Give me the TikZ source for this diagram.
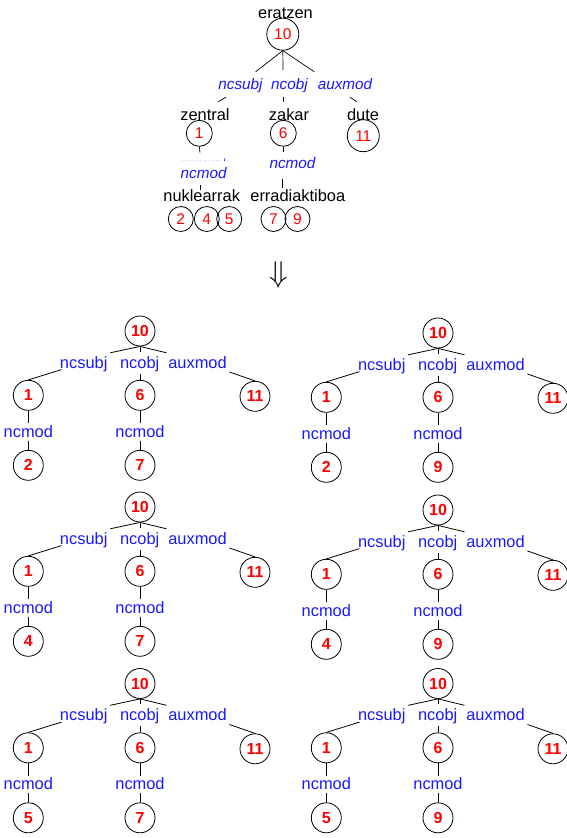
\documentclass[tikz,border=0pt]{standalone}
\usepackage{fontspec}
\setmainfont{Liberation Sans}
\usetikzlibrary{calc}
\definecolor{lblue}{RGB}{25,25,255}
\definecolor{lred}{RGB}{255,0,0}
\tikzset{
  bc/.style={circle,draw,line width=0.8pt,minimum size=30pt,inner sep=0pt,text=lred,font=\fontsize{16}{16}\selectfont\bfseries},
  bl/.style={anchor=base,inner sep=0pt,text height=12pt,text depth=3.5pt,text=lblue,font=\fontsize{16.4}{16.4}\selectfont},
  edge/.style={line width=0.8pt},
  tedge/.style={line width=0.7pt},
  tc/.style={circle,draw,line width=0.8pt,minimum size=26pt,inner sep=0pt,text=lred,font=\fontsize{15.5}{15.5}\selectfont},
  tcc/.style={tc,minimum size=32pt},
  tcs/.style={tc,minimum size=25pt},
  tw/.style={anchor=base,inner sep=0pt,text height=12pt,text depth=3.5pt,font=\fontsize{16.4}{16.4}\selectfont},
  tl/.style={anchor=base,inner sep=0pt,text height=11pt,text depth=3pt,text=lblue,font=\fontsize{15.3}{15.3}\selectfont\itshape},
}
\newcommand\bottree[5]{%
\begin{scope}[shift={(#2,#3)}]
\node[bc] (#1r) at (0,0) {10};
\node[bl] (#1s) at (-56.3,37) {ncsubj};
\node[bl] (#1o) at (-0.3,37) {ncobj};
\node[bl] (#1a) at (57.5,37) {auxmod};
\node[bc] (#1c1) at (-111.7,64.3) {1};
\node[bc] (#1c6) at (0,64.3) {6};
\node[bc] (#1c11) at (115,65.3) {11};
\node[bl] (#1m1) at (-111.7,106) {ncmod};
\node[bl] (#1m6) at (0,106) {ncmod};
\node[bc] (#1d1) at (-111.7,134.3) {#4};
\node[bc] (#1d6) at (0,134.3) {#5};
\draw[edge] (#1r.south) -- ([shift={(2.6,-3)}]#1s.north east);
\draw[edge] (#1r.south) -- ([shift={(0.3,-4)}]#1o.north);
\draw[edge] (#1r.south) -- ([shift={(-1.6,-3)}]#1a.north west);
\draw[edge] ([shift={(1.7,1.6)}]#1s.base west) -- (#1c1.north);
\draw[edge] ([shift={(0.3,2)}]#1o.south) -- (#1c6.north);
\draw[edge] ([shift={(2.6,4)}]#1a.base east) -- (#1c11.north);
\draw[edge] (#1c1.south) -- ([yshift=1.4pt]#1m1.north);
\draw[edge] (#1c6.south) -- ([yshift=1.4pt]#1m6.north);
\draw[edge] (#1m1.south) -- (#1d1.north);
\draw[edge] (#1m6.south) -- (#1d6.north);
\end{scope}}
\begin{document}
\begin{tikzpicture}[x=1pt,y=-1pt]
\useasboundingbox (0,0) rectangle (567,838);
% top tree
\node[tw] (weratzen) at (285.5,18.3) {eratzen};
\node[tcc] (t10) at (282.8,34.2) {10};
\node[tl] (tsubj) at (240.5,89.3) {ncsubj};
\node[tl] (tobj) at (289.5,89.3) {ncobj};
\node[tl] (taux) at (345,89.3) {auxmod};
\node[tw] (wzentral) at (205,120) {zentral};
\node[tw] (wzakar) at (289,120) {zakar};
\node[tw] (wdute) at (363,120) {dute};
\node[tc] (t1) at (199.3,133.3) {1};
\node[tc] (t6) at (283.3,133.3) {6};
\node[tcc] (t11) at (363.3,135.7) {11};
\node[tl] (tmod1) at (203.7,178.3) {ncmod};
\node[tl] (tmod6) at (292.5,168.3) {ncmod};
\node[tw] (wnuk) at (201.7,201.7) {nuklearrak};
\node[tw] (werr) at (297.8,201.7) {erradiaktiboa};
\node[tcs] (t2) at (180.8,219) {2};
\node[tcs] (t4) at (206.8,219) {4};
\node[tcs] (t5) at (229.2,219) {5};
\node[tcs] (t7) at (273.5,219) {7};
\node[tcs] (t9) at (297.5,219) {9};
\draw[tedge] (t10.south) -- ([shift={(-7.2,-6.3)}]tsubj.north east);
\draw[tedge] (t10.south) -- ([shift={(-6.5,-8.3)}]tobj.north);
\draw[tedge] (t10.south) -- ([shift={(-3.3,-6.3)}]taux.north west);
\draw[tedge] ([shift={(-14.5,4.7)}]tsubj.south) -- ([shift={(13,-6)}]wzentral.north);
\draw[tedge] ([shift={(-6.5,4.7)}]tobj.south) -- ([shift={(-6,-6)}]wzakar.north);
\draw[tedge] ([shift={(5,4.7)}]taux.south) -- ([shift={(-6,-6)}]wdute.north);
\draw[tedge] (t1.south) -- ([shift={(-3.7,-14.6)}]tmod1.north);
\draw[tedge] ([shift={(-3,3.7)}]tmod1.south) -- ([shift={(-1,0.3)}]wnuk.north);
\draw[tedge] (t6.south) -- ([shift={(-9.2,-5.6)}]tmod6.north);
\draw[tedge] ([shift={(-9.8,7)}]tmod6.south) -- ([shift={(-15.1,-1.4)}]werr.north);
\draw[lblue!22,dotted,line width=0.6pt] (182,160) -- (221,160);
\draw[lblue,line width=0.7pt] (225,158.3) -- (224.3,161);
% arrow
\node[scale=3] (arr) at (278.3,275) {$\Downarrow$};
% bottom trees
\bottree{A}{140}{331}{2}{7}
\bottree{B}{140}{507}{4}{7}
\bottree{C}{140}{683.5}{5}{7}
\bottree{D}{438}{333}{2}{9}
\bottree{E}{438}{510}{4}{9}
\bottree{F}{438}{683.5}{5}{9}
\end{tikzpicture}
\end{document}
